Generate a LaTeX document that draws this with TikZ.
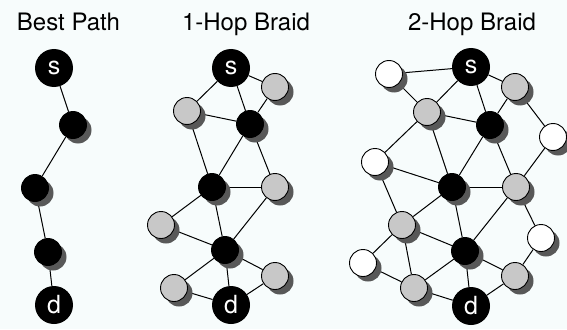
\documentclass[tikz,border=0pt]{standalone}
\usepackage{fontspec}
\setmainfont{TeX Gyre Heros}
\usetikzlibrary{shadows,backgrounds}
\definecolor{paper}{HTML}{F7FCFC}
\definecolor{nodegray}{HTML}{C8C8C8}
\definecolor{shade}{HTML}{585858}
\begin{document}
\begin{tikzpicture}[x=1pt,y=-1pt,
  title/.style={anchor=base,inner sep=0pt,font=\fontsize{24}{28}\selectfont},
  hop/.style={circle,minimum size=27pt,inner sep=0pt,draw=black,line width=0.9pt,
    drop shadow={shadow xshift=5pt,shadow yshift=-5pt,fill=shade,opacity=1}},
  blk/.style={hop,fill=black},
  gry/.style={hop,fill=nodegray},
  wht/.style={hop,fill=white},
  endpt/.style={circle,minimum size=38pt,inner sep=0pt,fill=black,text=white,
    font=\fontsize{25}{28}\selectfont},
  link/.style={line width=1pt,black}]
\useasboundingbox (0,0) rectangle (567,329);

% titles
\node[title] (t1) at (68.5,31) {Best Path};
\node[title] (t2) at (246,31) {1-Hop Braid};
\node[title] (t3) at (472,31) {2-Hop Braid};

% ---- best path ----
\node[endpt] (as) at (54,68) {s};
\node[blk] (a1) at (73,125) {};
\node[blk] (a2) at (35,188) {};
\node[blk] (a3) at (48,252) {};
\node[endpt] (ad) at (54,305) {d};

% ---- 1-hop braid ----
\node[endpt] (bs) at (231,68) {s};
\node[gry] (bg1) at (275,87) {};
\node[gry] (bg2) at (187,111) {};
\node[blk] (bb1) at (250,124) {};
\node[blk] (bb2) at (212,187) {};
\node[gry] (bg3) at (275,187) {};
\node[gry] (bg4) at (161,225) {};
\node[blk] (bb3) at (225,250) {};
\node[gry] (bg5) at (275,276) {};
\node[gry] (bg6) at (174,288) {};
\node[endpt] (bd) at (231,305) {d};

% ---- 2-hop braid ----
\node[endpt] (cs) at (471,67) {s};
\node[wht] (cw1) at (389,74) {};
\node[gry] (cg1) at (515,87) {};
\node[gry] (cg2) at (427,112) {};
\node[blk] (cb1) at (490,125) {};
\node[wht] (cw2) at (553,137) {};
\node[wht] (cw3) at (375,162) {};
\node[blk] (cb2) at (452,187) {};
\node[gry] (cg3) at (516,187) {};
\node[gry] (cg4) at (402,225) {};
\node[wht] (cw4) at (541,238) {};
\node[blk] (cb3) at (465,251) {};
\node[wht] (cw5) at (363,263) {};
\node[gry] (cg5) at (515,276) {};
\node[gry] (cg6) at (414,288) {};
\node[endpt] (cd) at (471,306) {d};

\begin{pgfonlayer}{background}
  \fill[paper] (0,0) rectangle (567,329);

  \draw[link] (as) -- (a1) -- (a2) -- (a3) -- (ad);

  \foreach \u/\v in {bs/bg2,bs/bb1,bs/bg1,bg1/bb1,bg2/bb1,bg2/bb2,bb1/bb2,
      bb1/bg3,bb2/bg3,bb2/bg4,bb2/bb3,bg3/bb3,bg4/bb3,bb3/bg5,bb3/bg6,
      bb3/bd,bg6/bd,bg5/bd}
    \draw[link] (\u) -- (\v);

  \foreach \u/\v in {cw1/cs,cw1/cg2,cs/cg2,cs/cb1,cs/cg1,cg1/cb1,cg1/cw2,
      cg2/cb1,cg2/cw3,cg2/cb2,cb1/cb2,cb1/cg3,cw2/cg3,cw3/cb2,cw3/cg4,
      cb2/cg3,cb2/cg4,cb2/cb3,cg3/cb3,cg3/cw4,cg4/cb3,cg4/cw5,cg4/cg6,
      cw4/cg5,cb3/cg5,cb3/cg6,cb3/cd,cw5/cg6,cg6/cd,cg5/cd}
    \draw[link] (\u) -- (\v);
\end{pgfonlayer}
\end{tikzpicture}
\end{document}
